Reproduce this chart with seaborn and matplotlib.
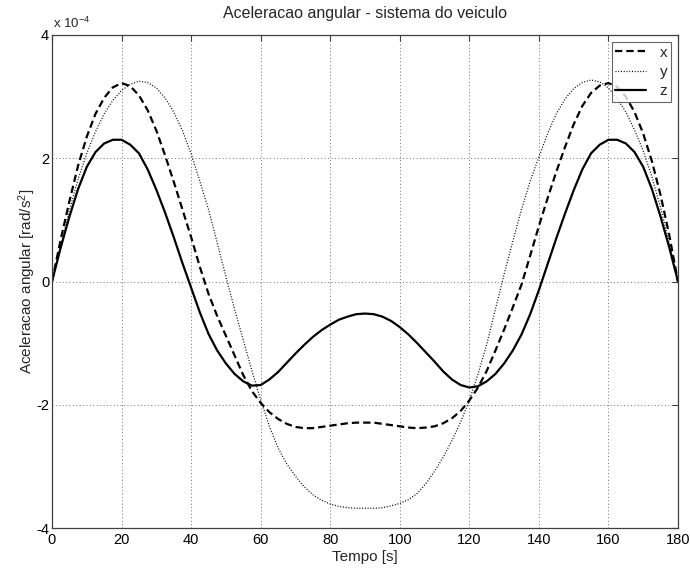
import matplotlib
matplotlib.use("Agg")
import matplotlib.pyplot as plt
import numpy as np
import pandas as pd
import seaborn as sns

# Time axis [s], one reading every 2.5 s
tempo = list(np.arange(0, 180.01, 2.5))

# Angular acceleration, in units of 1e-4 rad/s^2
acc_x = [0.00, 0.68, 1.30, 1.88, 2.35, 2.72, 2.98, 3.15, 3.22, 3.17,
         3.02, 2.78, 2.45, 2.05, 1.62, 1.17, 0.72, 0.24, -0.20, -0.56,
         -0.88, -1.20, -1.52, -1.78, -1.97, -2.12, -2.23, -2.31, -2.36, -2.38,
         -2.38, -2.36, -2.34, -2.32, -2.30, -2.29, -2.29, -2.29, -2.31, -2.33,
         -2.35, -2.37, -2.38, -2.37, -2.35, -2.30, -2.22, -2.10, -1.93, -1.72,
         -1.45, -1.12, -0.78, -0.42, -0.05, 0.42, 0.90, 1.35, 1.78, 2.18,
         2.55, 2.85, 3.06, 3.18, 3.22, 3.16, 3.00, 2.75, 2.40, 1.95,
         1.40, 0.75, 0.00]
acc_y = [0.00, 0.58, 1.15, 1.66, 2.08, 2.43, 2.72, 2.94, 3.10, 3.20,
         3.25, 3.23, 3.14, 2.98, 2.75, 2.45, 2.07, 1.63, 1.17, 0.63,
         0.08, -0.45, -0.95, -1.45, -1.92, -2.35, -2.70, -2.96, -3.16, -3.33,
         -3.46, -3.55, -3.61, -3.65, -3.67, -3.68, -3.68, -3.68, -3.67, -3.64,
         -3.60, -3.54, -3.44, -3.28, -3.08, -2.85, -2.58, -2.28, -1.93, -1.50,
         -1.02, -0.45, 0.12, 0.65, 1.17, 1.63, 2.02, 2.40, 2.72, 2.96,
         3.13, 3.23, 3.27, 3.24, 3.14, 2.97, 2.75, 2.46, 2.12, 1.70,
         1.20, 0.62, 0.00]
acc_z = [0.00, 0.55, 1.05, 1.50, 1.86, 2.10, 2.24, 2.30, 2.30, 2.22,
         2.08, 1.82, 1.49, 1.12, 0.72, 0.30, -0.10, -0.50, -0.85, -1.12,
         -1.33, -1.50, -1.62, -1.69, -1.68, -1.59, -1.47, -1.32, -1.17, -1.03,
         -0.90, -0.79, -0.70, -0.62, -0.57, -0.53, -0.52, -0.53, -0.57, -0.64,
         -0.74, -0.86, -1.00, -1.15, -1.30, -1.46, -1.59, -1.68, -1.72, -1.70,
         -1.62, -1.50, -1.33, -1.12, -0.86, -0.53, -0.14, 0.28, 0.70, 1.10,
         1.48, 1.82, 2.08, 2.22, 2.30, 2.30, 2.24, 2.10, 1.86, 1.50,
         1.05, 0.55, 0.00]

xticks = [0, 20, 40, 60, 80, 100, 120, 140, 160, 180]
yticks = [-4, -2, 0, 2, 4]

sns.set_style("white")
plt.rcParams["font.family"] = ["Liberation Sans", "DejaVu Sans"]
plt.rcParams["mathtext.fontset"] = "custom"
plt.rcParams["mathtext.rm"] = "Liberation Sans"
plt.rcParams["mathtext.it"] = "Liberation Sans:italic"
plt.rcParams["mathtext.bf"] = "Liberation Sans:bold"

df = pd.DataFrame({"t": tempo, "x": acc_x, "y": acc_y, "z": acc_z})

fig = plt.figure(figsize=(6.9, 5.69), dpi=100)
ax = fig.add_axes([52 / 690, 41 / 569, 626 / 690, 493 / 569])

sns.lineplot(data=df, x="t", y="x", ax=ax, color="black", lw=1.6,
             linestyle="--", label="x")
sns.lineplot(data=df, x="t", y="y", ax=ax, color="black", lw=0.9,
             linestyle=":", label="y")
sns.lineplot(data=df, x="t", y="z", ax=ax, color="black", lw=1.6,
             linestyle="-", label="z")
ax.lines[0].set_dashes([3.3, 1.8])
ax.lines[1].set_dashes([0.8, 1.4])

ax.set_xlim(0, 180)
ax.set_ylim(-4, 4)
ax.set_xticks(xticks)
ax.set_yticks(yticks)
ax.set_xticklabels([str(v) for v in xticks])
ax.set_yticklabels([str(v) for v in yticks])

ax.grid(True, linestyle=(0, (1, 2.5)), linewidth=0.7, color="#707070")
for sp in ax.spines.values():
    sp.set_visible(True)
    sp.set_color("#404040")
    sp.set_linewidth(0.9)
ax.tick_params(direction="in", top=True, right=True, length=4, width=0.8,
               color="#404040", labelsize=10.5, labelcolor="black")
ax.tick_params(axis="x", pad=3.5)
ax.tick_params(axis="y", pad=2)

ax.set_title("Aceleracao angular - sistema do veiculo", fontsize=11.5, pad=12)
ax.set_xlabel("Tempo [s]", fontsize=11, labelpad=2)
ax.set_ylabel("Aceleracao angular [rad/s$^2$]", fontsize=11, labelpad=-1)
ax.text(0.002, 1.008, r"x 10$^{-4}$", transform=ax.transAxes, ha="left",
        va="bottom", fontsize=9.5)

leg = ax.legend(loc="upper right", frameon=True, fancybox=False,
                edgecolor="#404040", fontsize=11, handlelength=2.0,
                borderpad=0.25, labelspacing=0.35, handletextpad=0.9,
                borderaxespad=0.45)
leg.get_frame().set_linewidth(0.8)

fig.savefig("out.png", dpi=100)
